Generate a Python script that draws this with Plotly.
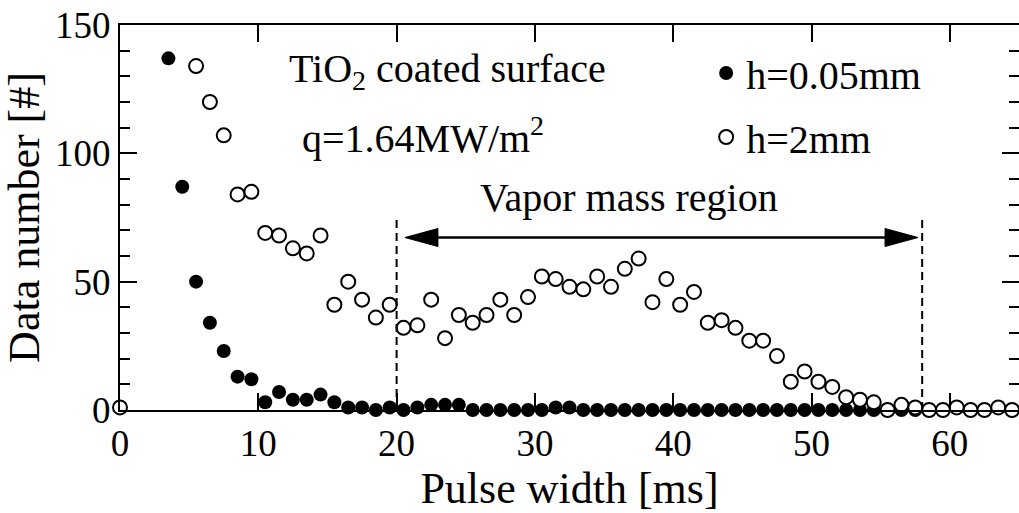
import plotly.graph_objects as go

# ---- data ----
x_filled = [3.5, 4.5, 5.5, 6.5, 7.5, 8.5, 9.5, 10.5, 11.5, 12.5, 13.5, 14.5, 15.5, 16.5, 17.5,
            18.5, 19.5, 20.5, 21.5, 22.5, 23.5, 24.5, 25.5, 26.5, 27.5, 28.5, 29.5, 30.5, 31.5,
            32.5, 33.5, 34.5, 35.5, 36.5, 37.5, 38.5, 39.5, 40.5, 41.5, 42.5, 43.5, 44.5, 45.5,
            46.5, 47.5, 48.5, 49.5, 50.5, 51.5, 52.5, 53.5, 54.5, 55.5, 56.5, 57.5]
y_filled = [137, 87, 50, 34, 23, 13, 12, 3, 7, 4, 4, 6, 3, 1, 1,
            0, 1, 0, 1, 2, 2, 2, 0, 0, 0, 0, 0, 0, 1,
            1, 0, 0, 0, 0, 0, 0, 0, 0, 0, 0, 0, 0, 0,
            0, 0, 0, 0, 0, 0, 0, 0, 0, 0, 0, 0]

x_open = [0, 5.5, 6.5, 7.5, 8.5, 9.5, 10.5, 11.5, 12.5, 13.5, 14.5, 15.5, 16.5, 17.5, 18.5,
          19.5, 20.5, 21.5, 22.5, 23.5, 24.5, 25.5, 26.5, 27.5, 28.5, 29.5, 30.5, 31.5, 32.5,
          33.5, 34.5, 35.5, 36.5, 37.5, 38.5, 39.5, 40.5, 41.5, 42.5, 43.5, 44.5, 45.5, 46.5,
          47.5, 48.5, 49.5, 50.5, 51.5, 52.5, 53.5, 54.5, 55.5, 56.5, 57.5, 58.5, 59.5, 60.5,
          61.5, 62.5, 63.5, 64.5]
y_open = [1, 134, 120, 107, 84, 85, 69, 68, 63, 61, 68, 41, 50, 43, 36,
          41, 32, 33, 43, 28, 37, 34, 37, 43, 37, 44, 52, 51, 48,
          47, 52, 48, 55, 59, 42, 51, 41, 46, 34, 35, 32, 27, 27,
          21, 11, 15, 11, 9, 5, 4, 3, 0, 2, 1, 0, 0, 1,
          0, 0, 1, 0]

x_ticks = [0, 10, 20, 30, 40, 50, 60]
y_ticks = [0, 50, 100, 150]
region_start = 20
region_end = 58
arrow_left = 20.6
arrow_right = 57.7
arrow_y = 67.2
dash_top = 74

FONT = "Liberation Serif"

fig = go.Figure()
fig.add_trace(go.Scatter(
    x=x_filled, y=y_filled, mode="markers", name="h=0.05mm", legend="legend",
    marker=dict(symbol="circle", size=14, color="black", line=dict(width=0)),
    cliponaxis=False))
fig.add_trace(go.Scatter(
    x=x_open, y=y_open, mode="markers", name="h=2mm", legend="legend2",
    marker=dict(symbol="circle", size=14, color="white", line=dict(width=2, color="black")),
    cliponaxis=False))

W, H = 1019, 513
L, R, T, B = 120, 0, 25, 103
xr = [0, 65]
yr = [0, 150]
pxx = (W - L - R) / (xr[1] - xr[0])
pxy = (H - T - B) / (yr[1] - yr[0])

shapes = []
for xv in (region_start, region_end):
    shapes.append(dict(type="line", xref="x", yref="y", x0=xv, x1=xv, y0=0, y1=dash_top,
                       line=dict(color="black", width=2, dash="8px,5px")))
shapes.append(dict(type="line", xref="x", yref="y", x0=arrow_left + 20 / pxx, x1=arrow_right - 20 / pxx,
                   y0=arrow_y, y1=arrow_y, line=dict(color="black", width=2.5)))
hl = 33 / pxx
hh = 9 / pxy
shapes.append(dict(type="path", xref="x", yref="y",
                   path=f"M{arrow_left},{arrow_y} L{arrow_left + hl},{arrow_y + hh} L{arrow_left + hl},{arrow_y - hh} Z",
                   fillcolor="black", line=dict(color="black", width=1)))
shapes.append(dict(type="path", xref="x", yref="y",
                   path=f"M{arrow_right},{arrow_y} L{arrow_right - hl},{arrow_y + hh} L{arrow_right - hl},{arrow_y - hh} Z",
                   fillcolor="black", line=dict(color="black", width=1)))

annotations = [
    dict(text="TiO<sub>2</sub> coated surface", x=12.1, y=132, xref="x", yref="y",
         xanchor="left", yanchor="middle", showarrow=False, font=dict(family=FONT, size=40, color="black")),
    dict(text="q=1.64MW/m<sup>2</sup>", x=13.0, y=107, xref="x", yref="y",
         xanchor="left", yanchor="middle", showarrow=False, font=dict(family=FONT, size=40, color="black")),
    dict(text="Vapor mass region", x=(region_start + region_end) / 2 - 2.2, y=82.6, xref="x", yref="y",
         xanchor="center", yanchor="middle", showarrow=False, font=dict(family=FONT, size=40, color="black")),
]

axis_common = dict(showline=True, linewidth=2, linecolor="black", mirror="ticks",
                   ticks="inside", tickwidth=2, tickcolor="black", ticklen=17,
                   showgrid=False, zeroline=False,
                   tickfont=dict(family=FONT, size=37, color="black"))

fig.update_layout(
    width=W, height=H, margin=dict(l=L, r=R, t=T, b=B, autoexpand=False),
    paper_bgcolor="white", plot_bgcolor="white",
    xaxis=dict(range=xr, tickvals=x_ticks, title=dict(text="Pulse width [ms]", standoff=10,
               font=dict(family=FONT, size=44, color="black")), **axis_common),
    yaxis=dict(range=yr, tickvals=y_ticks, title=dict(text="Data number [#]", standoff=10,
               font=dict(family=FONT, size=44, color="black")),
               minor=dict(dtick=10, ticks="inside", ticklen=10, tickwidth=2, tickcolor="black"),
               **axis_common),
    showlegend=True,
    legend=dict(x=0.652, y=(410 - 73) / 385, xanchor="left", yanchor="middle",
                bgcolor="rgba(0,0,0,0)", font=dict(family=FONT, size=40, color="black")),
    legend2=dict(x=0.652, y=(410 - 137) / 385, xanchor="left", yanchor="middle",
                 bgcolor="rgba(0,0,0,0)", font=dict(family=FONT, size=40, color="black")),
    shapes=shapes, annotations=annotations,
)

fig.write_html("out.html")
